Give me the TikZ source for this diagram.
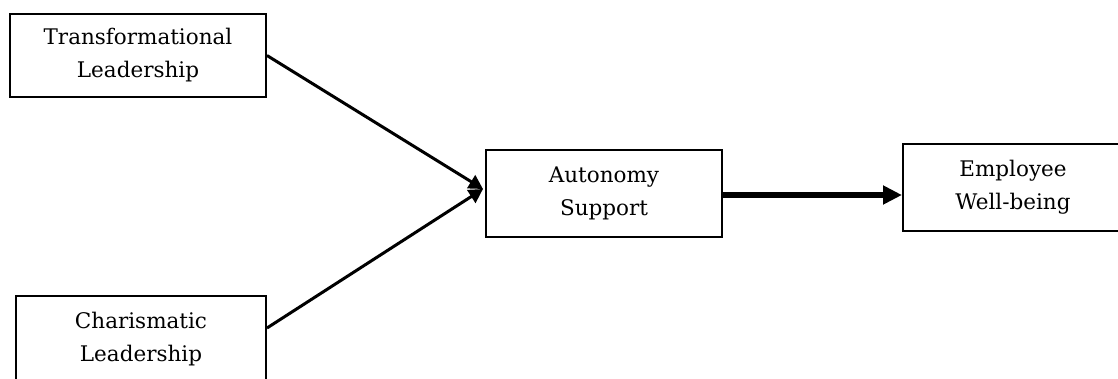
\documentclass[tikz,border=0pt]{standalone}
\usepackage{fontspec}
\setmainfont{DejaVu Serif}
\usetikzlibrary{arrows.meta}

\begin{document}
\begin{tikzpicture}[x=1pt,y=-1pt,->,>={Triangle[length=14pt,width=15pt]},line width=3pt]

		\tikzstyle{box}=[draw=black,fill=white,line width=2pt,align=center,inner sep=0pt,
			text=black,font=\fontsize{21.5}{33}\selectfont]

		\useasboundingbox (0,0) rectangle (1118,378);

		\node[box,minimum width=256pt,minimum height=83pt] (tl) at (138,55.5)  {Transformational\\Leadership};
		\node[box,minimum width=250pt,minimum height=86pt] (cl) at (141,339)   {Charismatic\\Leadership};
		\node[box,minimum width=236pt,minimum height=87pt] (as) at (604,193.5) {Autonomy\\Support};
		\node[box,minimum width=220pt,minimum height=87pt] (ew) at (1013,187.5) {Employee\\Well-being};

		\coordinate (meet) at (483,189);
		\coordinate (clout) at (267,328);

		\draw (tl.east) -- (meet);
		\draw (clout) -- (meet);
		\draw[line width=6pt,-{Triangle[length=19pt,width=18pt]}] ([yshift=-1.5pt]as.east) -- ([yshift=-1.5pt]as.east -| ew.west);

	\end{tikzpicture}
\end{document}
